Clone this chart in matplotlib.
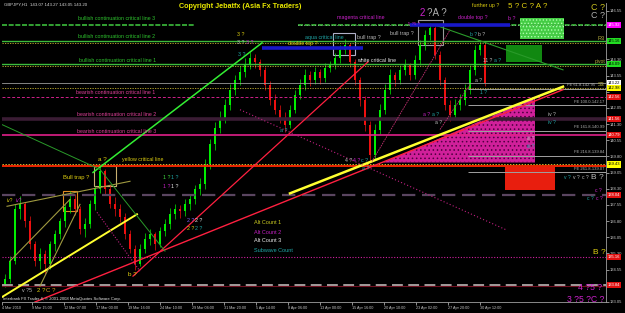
import matplotlib
matplotlib.use("Agg")
import matplotlib.pyplot as plt
from matplotlib.patches import Rectangle, Polygon

plt.rcParams['font.family'] = ['Liberation Sans', 'DejaVu Sans']
plt.rcParams['hatch.linewidth'] = 0.6

# ---- candles (GBPJPY, one candle = 10 H1 bars) ----
opens = [133.90, 134.11, 134.95, 137.35, 137.58, 136.80, 135.73, 134.95, 135.27, 134.81,
         135.73, 136.19, 136.80, 137.44, 137.81, 137.35, 136.43, 136.66, 137.58, 138.27,
         139.11, 138.27, 137.58, 137.35, 136.98, 136.19, 135.50, 134.81, 135.50, 135.96,
         136.19, 135.73, 136.33, 136.66, 137.12, 137.35, 137.26, 137.58, 137.81, 138.27,
         138.51, 139.43, 140.36, 141.14, 141.60, 142.20, 142.90, 143.36, 143.73, 144.05,
         144.38, 144.19, 143.82, 143.13, 142.44, 141.97, 141.60, 141.28, 141.97, 142.67,
         143.13, 143.59, 143.36, 143.73, 143.45, 143.91, 144.05, 144.38, 144.75, 144.98,
         144.19, 143.36, 142.44, 141.28, 139.89, 141.05, 141.97, 142.90, 143.59, 143.36,
         143.82, 144.05, 143.59, 144.28, 144.98, 145.44, 145.76, 144.52, 143.36, 142.20,
         141.74, 142.20, 142.44, 142.90, 143.82, 144.75, 144.98]
highs = [134.35, 135.20, 137.60, 137.95, 137.70, 137.05, 135.90, 135.55, 135.45, 135.90,
         136.40, 136.95, 137.60, 138.20, 138.05, 137.50, 136.95, 137.80, 138.45, 139.35,
         139.20, 138.50, 137.90, 137.60, 137.20, 136.40, 135.70, 135.75, 136.25, 136.45,
         136.30, 136.55, 136.90, 137.40, 137.60, 137.55, 137.85, 138.05, 138.50, 138.80,
         139.70, 140.60, 141.40, 141.90, 142.45, 143.15, 143.60, 144.00, 144.35, 144.65,
         144.55, 144.30, 143.95, 143.30, 142.70, 142.20, 141.85, 142.20, 142.90, 143.40,
         143.85, 143.75, 143.95, 143.85, 144.15, 144.25, 144.60, 144.95, 145.25, 145.05,
         144.30, 143.50, 142.60, 141.45, 141.30, 142.25, 143.15, 143.85, 143.70, 144.05,
         144.30, 144.15, 144.50, 145.20, 145.65, 146.00, 145.85, 144.70, 143.50, 142.40,
         142.45, 142.70, 143.15, 144.05, 144.95, 145.20, 145.05]
lows = [133.75, 133.95, 134.80, 136.90, 136.55, 135.50, 134.70, 134.60, 134.35, 134.60,
        135.40, 135.95, 136.55, 137.20, 137.10, 136.20, 136.05, 136.50, 137.30, 138.10,
        138.05, 137.40, 137.05, 136.75, 135.95, 135.30, 134.55, 134.70, 135.30, 135.70,
        135.45, 135.60, 136.10, 136.45, 136.90, 136.95, 137.05, 137.30, 137.60, 138.00,
        138.30, 139.20, 140.10, 140.90, 141.35, 141.95, 142.65, 143.10, 143.50, 143.85,
        143.90, 143.55, 142.90, 142.20, 141.75, 141.35, 140.95, 141.10, 141.80, 142.45,
        142.90, 143.05, 143.15, 143.15, 143.25, 143.70, 143.85, 144.15, 144.55, 143.95,
        143.10, 142.15, 141.00, 139.55, 139.70, 140.85, 141.75, 142.70, 143.05, 143.15,
        143.60, 143.35, 143.40, 144.05, 144.75, 145.20, 144.30, 143.10, 141.95, 141.45,
        141.55, 141.95, 142.20, 142.70, 143.60, 144.50, 143.05]
closes = [134.11, 134.95, 137.35, 137.58, 136.80, 135.73, 134.95, 135.27, 134.81, 135.73,
          136.19, 136.80, 137.44, 137.81, 137.35, 136.43, 136.66, 137.58, 138.27, 139.11,
          138.27, 137.58, 137.35, 136.98, 136.19, 135.50, 134.81, 135.50, 135.96, 136.19,
          135.73, 136.33, 136.66, 137.12, 137.35, 137.26, 137.58, 137.81, 138.27, 138.51,
          139.43, 140.36, 141.14, 141.60, 142.20, 142.90, 143.36, 143.73, 144.05, 144.38,
          144.19, 143.82, 143.13, 142.44, 141.97, 141.60, 141.28, 141.97, 142.67, 143.13,
          143.59, 143.36, 143.73, 143.45, 143.91, 144.05, 144.38, 144.75, 144.98, 144.19,
          143.36, 142.44, 141.28, 139.89, 141.05, 141.97, 142.90, 143.59, 143.36, 143.82,
          144.05, 143.59, 144.28, 144.98, 145.44, 145.76, 144.52, 143.36, 142.20, 141.74,
          142.20, 142.44, 142.90, 143.82, 144.75, 144.98, 143.22]
candle_times = [6 + 10 * i for i in range(len(closes))]

# ---- time axis (H1 bar index) ----
xtick_times = [0, 60, 124, 188, 252, 316, 380, 444, 508, 572, 636, 700, 764, 828, 892, 956]
xtick_labels = ["4 Mar 2010", "9 Mar 15:00", "12 Mar 07:00", "17 Mar 00:00", "19 Mar 16:00",
                "24 Mar 10:00", "29 Mar 04:00", "31 Mar 20:00", "5 Apr 14:00", "8 Apr 06:00",
                "13 Apr 00:00", "15 Apr 16:00", "20 Apr 10:00", "23 Apr 02:00",
                "27 Apr 20:00", "30 Apr 12:00"]
ytick_vals = [146.55, 145.80, 145.05, 144.30, 143.55, 142.80, 142.05, 141.30, 140.55,
              139.80, 139.05, 138.30, 137.55, 136.80, 136.05, 135.30, 134.55, 133.80, 133.05]
ytick_hidden = [145.80, 145.05, 142.80, 133.80]

# ---- horizontal levels ----
bull_levels = [145.14, 144.09]
bull_dotted = [145.07, 144.02]
bull3_level = 145.92
bull3_span = [0, 386]
magenta_span = [592, 1208]
bid_level = 143.22
s3_dotted = 142.98
bear1_level = 142.56
bear2_level = 141.56
bear3_level = 140.80
yellow_dotted = 139.43
red_critical = 139.38
purple_dashed = 138.00
magenta_dotted = 135.14
gray_dashed = 133.84
darkred_low = 133.78

fe_prices = [142.95, 142.17, 140.99, 139.84, 139.07]
fe_labels = ["FE 61.8-142.95", "FE 100.0-142.17", "FE 161.8-140.99",
             "FE 216.8-139.84", "FE 261.8-139.07"]
fe_start = 932
fe_label_end = [1186, 1204, 1204, 1204, 1204]

# price boxes on the axis: price, text, face, text colour
price_boxes = [(145.92, "145.92", "#ff00ff", "white"), (145.16, "145.16", "#22dd22", "black"),
               (144.09, "144.09", "#22dd22", "black"), (143.22, "143.22", "white", "black"),
               (142.98, "142.98", "#ffff00", "black"), (142.56, "142.56", "#e01010", "white"),
               (141.56, "141.56", "#e01010", "white"), (140.80, "140.79", "#e01010", "white"),
               (139.43, "139.43", "#ffff00", "black"), (138.02, "138.04", "#e01010", "white"),
               (135.14, "135.16", "#e01010", "white"), (133.84, "133.84", "#e01010", "white")]

# ---- trend lines (time, price) ----
red_long_t, red_long_p = [66, 1122], [133.05, 142.90]
yellow_main_t, yellow_main_p = [576, 1122], [138.09, 143.04]
red_steep_t, red_steep_p = [262, 732], [134.25, 144.19]
yellow_left_t, yellow_left_p = [0, 270], [133.28, 137.12]
olive_t, olive_p = [10, 256], [137.49, 138.65]
olive_ch1_t, olive_ch1_p = [16, 136], [134.95, 137.81]
olive_ch2_t, olive_ch2_p = [76, 156], [133.79, 137.58]
lime_t, lime_p = [182, 520], [139.06, 145.07]
green_a_t, green_a_p = [0, 196, 326], [141.28, 139.20, 135.41]
green_top_t, green_top_p = [866, 1122], [145.90, 143.82]
pink_dot_long_t, pink_dot_long_p = [476, 1010], [141.97, 136.38]
pink_dot_short_t, pink_dot_short_p = [190, 276], [137.21, 134.48]
pink_thin1_t, pink_thin1_p = [740, 896], [139.57, 145.67]
pink_thin2_t, pink_thin2_p = [876, 936], [141.05, 143.13]
blue1_t, blue1_p = [520, 722], 144.84
blue2_t, blue2_p = [816, 1016], 145.90

# ---- rectangles (t0, t1, p_low, p_high) ----
light_green_box = (1036, 1124, 145.26, 146.23)
dark_green_box = (1008, 1080, 144.19, 144.98)
red_box = (1006, 1106, 138.23, 139.29)
top_box = (832, 882, 144.98, 146.13)
aqua_box = (662, 706, 144.52, 145.53)
gold_box = (184, 228, 138.41, 139.38)
orange_box = (122, 150, 137.26, 138.18)
tri_t = [762, 1066, 1066]
tri_p = [139.52, 142.53, 139.52]

W, H = 625, 313
fig = plt.figure(figsize=(W / 100, H / 100), dpi=100, facecolor='black')
ax = fig.add_axes([2 / W, 11 / H, 604 / W, 299 / H], facecolor='black')
ax.set_xlim(0, 1208)
ax.set_ylim(133.10, 146.92)


# background objects
def box(b, fc, ec='none', lw=0.8, hatch=None, fill=True):
    ax.add_patch(Rectangle((b[0], b[2]), b[1] - b[0], b[3] - b[2], fc=fc if fill else 'none',
                           ec=ec, lw=lw, hatch=hatch, zorder=1))


box(light_green_box, '#44cc44', ec='#aaffaa', lw=0, hatch='.....')
box(dark_green_box, '#118811')
box(red_box, '#e81e0e')
ax.add_patch(Polygon(list(zip(tri_t, tri_p)), closed=True, fc='#d0209a', ec='#500040',
                     lw=0, hatch='....', zorder=1))
box(top_box, None, ec='#9a9a9a', fill=False)
box(aqua_box, None, ec='#b0b0c8', fill=False)
box(gold_box, None, ec='#c8b070', fill=False)
box(orange_box, None, ec='#e08a20', fill=False)

# candles
for t, o, h, l, c in zip(candle_times, opens, highs, lows, closes):
    col = '#00ee00' if c >= o else '#ee1010'
    ax.vlines(t, l, h, color=col, lw=0.5, zorder=2)
    ax.add_patch(Rectangle((t - 2.4, min(o, c)), 4.8, max(abs(c - o), 0.03),
                           fc=col, ec='none', zorder=2))

# horizontal levels
ax.hlines(bull3_level, *bull3_span, color='#3cbc3c', lw=1.2, ls=(0, (3, 1)), zorder=3)
ax.hlines(bull3_level, *magenta_span, color='#3cbc3c', lw=1.2, ls=(0, (3, 1)), zorder=3)
ax.hlines(bull3_level, *magenta_span, color='#d0d0d0', lw=0.5, ls=(0, (1, 3)), zorder=3)
for lv in bull_levels:
    ax.axhline(lv, color='#3cbc3c', lw=1.0, zorder=3)
for lv in bull_dotted:
    ax.axhline(lv, color='#c8b432', lw=0.6, ls=(0, (1.5, 1.5)), zorder=3)
ax.axhline(bid_level, color='#9a9a9a', lw=0.6, zorder=3)
ax.axhline(s3_dotted, color='#c8b432', lw=0.6, ls=(0, (1.5, 1.5)), zorder=3)
ax.axhline(bear1_level, color='#d0208a', lw=0.7, ls=(0, (3, 2)), zorder=3)
ax.axhline(bear2_level, color='#3a1c34', lw=2.6, zorder=3)
ax.axhline(bear3_level, color='#e0208a', lw=1.2, zorder=3)
ax.axhline(yellow_dotted, color='#d0b030', lw=0.7, ls=(0, (1.5, 1.5)), zorder=3)
ax.axhline(red_critical, color='#ff2a00', lw=1.3, zorder=3)
ax.axhline(purple_dashed, color='#5a4560', lw=1.6, ls=(0, (6, 3)), zorder=3)
ax.axhline(magenta_dotted, color='#d020a0', lw=0.8, ls=(0, (1, 1.5)), zorder=3)
ax.axhline(darkred_low, color='#701020', lw=0.8, zorder=3)
ax.axhline(gray_dashed, color='#b0a8a8', lw=1.3, ls=(0, (6, 3)), zorder=3)

for p in fe_prices:
    ax.hlines(p, fe_start, 1208, color='#a0a0a0', lw=0.7, zorder=3)

# trend lines
ax.plot(red_long_t, red_long_p, color='#ff2040', lw=1.0, zorder=4)
ax.plot(yellow_main_t, yellow_main_p, color='#ffff30', lw=1.8, zorder=4)
ax.plot(red_steep_t, red_steep_p, color='#ff2040', lw=0.9, zorder=4)
ax.plot(yellow_left_t, yellow_left_p, color='#ffff30', lw=1.4, zorder=4)
ax.plot(olive_t, olive_p, color='#a09a40', lw=0.8, zorder=4)
ax.plot(olive_ch1_t, olive_ch1_p, color='#a09a40', lw=0.8, zorder=4)
ax.plot(olive_ch2_t, olive_ch2_p, color='#a09a40', lw=0.8, zorder=4)
ax.plot(lime_t, lime_p, color='#33ee33', lw=1.1, zorder=4)
ax.plot(green_a_t, green_a_p, color='#2a9a2a', lw=0.7, zorder=4)
ax.plot(green_top_t, green_top_p, color='#2a9a2a', lw=0.8, zorder=4)
ax.plot(pink_dot_long_t, pink_dot_long_p, color='#c02080', lw=0.8, ls=(0, (1, 2)), zorder=4)
ax.plot(pink_dot_short_t, pink_dot_short_p, color='#c02080', lw=0.8, ls=(0, (1, 1.5)), zorder=4)
ax.plot(pink_thin1_t, pink_thin1_p, color='#c03070', lw=0.6, ls=(0, (2, 1)), zorder=4)
ax.plot(pink_thin2_t, pink_thin2_p, color='#c03070', lw=0.6, ls=(0, (2, 1)), zorder=4)
ax.hlines(blue1_p, *blue1_t, color='#1818c8', lw=2.6, zorder=4)
ax.hlines(blue2_p, *blue2_t, color='#1818c8', lw=2.6, zorder=4)

# axes
ax.yaxis.tick_right()
ax.set_yticks(ytick_vals)
ax.set_yticklabels(["" if v in ytick_hidden else f"{v:.2f}" for v in ytick_vals])
ax.set_xticks(xtick_times)
ax.set_xticklabels(xtick_labels)
plt.setp(ax.get_xticklabels(), ha='left')
ax.tick_params(axis='y', colors='#c8c8c8', labelsize=3.0, length=2, width=0.5, pad=1)
ax.tick_params(axis='x', colors='#c8c8c8', labelsize=2.7, length=2, width=0.5, pad=1)
for side in ['top', 'left']:
    ax.spines[side].set_visible(False)
for side in ['right', 'bottom']:
    ax.spines[side].set_color('#a0a0a0')
    ax.spines[side].set_linewidth(0.6)

yt = ax.get_yaxis_transform()
for p, s, fc, tc in price_boxes:
    ax.text(1.003, p, s, transform=yt, ha='left', va='center', fontsize=3.0, color=tc,
            bbox=dict(boxstyle='square,pad=0.25', fc=fc, ec='none'), clip_on=False, zorder=6)

for p, s, xe in zip(fe_prices, fe_labels, fe_label_end):
    ax.text(xe, p + 0.08, s, ha='right', va='bottom', fontsize=3.0, color='#b0b0b0', zorder=5)


# annotations (figure pixels)
def put(x, y, s, color, size=3.8, ha='left', weight='normal'):
    fig.text(x / W, 1 - y / H, s, color=color, fontsize=size, ha=ha, va='center',
             fontweight=weight)


GRN, PNK, YEL, TEAL, MAG, GRY, WHT = ('#2ec42e', '#e0409a', '#e0d010', '#20a8a8',
                                      '#cc22cc', '#bdbdbd', '#e8e8e8')

put(4, 5, "GBPJPY,H1  143.07 143.27 143.05 143.20", '#d8d8d8', 3.2)
put(179, 7, "Copyright Jebatfx (Asia Fx Traders)", '#e8e800', 5.2, weight='bold')
put(78, 19, "bullish continuation critical line 3", GRN)
put(78, 36, "bullish continuation critical line 2", GRN)
put(79, 60, "bullish continuation critical line 1", GRN)
put(76, 93, "bearish continuation critical line 1", PNK)
put(77, 115, "bearish continuation critical line 2", PNK)
put(77, 132, "bearish continuation critical line 3", PNK)
put(122, 160, "yellow critical line", YEL)
put(98, 159, "a ?", YEL, 4.6)
put(63, 178, "Bull trap ?", YEL, 4.2)
put(7, 200, "iv?", YEL, 3.6)
put(16, 200, "iv?", MAG, 3.6)
put(163, 178, "1 ?", '#40e040', 3.8)
put(171, 178, "1 ?", TEAL, 3.8)
put(163, 186, "1 ?", MAG, 3.8)
put(171, 186, "1 ?", WHT, 3.8)
put(187, 220, "2 ?", '#8060ff', 3.8)
put(195, 220, "2 ?", WHT, 3.8)
put(187, 228, "2 ?", YEL, 3.8)
put(195, 228, "2 ?", TEAL, 3.8)
put(128, 275, "b ?", YEL, 4.6)
put(22, 290, "v ?5", GRY, 3.8)
put(37, 290, "2 ?", YEL, 4.4)
put(46, 290, "C ?", '#e0a020', 4.4)
put(3, 299, "Interbank FX Trader 4, \u00a9 2001-2008 MetaQuotes Software Corp.", WHT, 3.0)
put(237, 35, "3 ?", YEL)
put(237, 43, "3 ?", GRY)
put(246, 43, "3 ?", MAG)
put(238, 54, "3 ?", TEAL)
put(288, 43, "double top ?", YEL)
put(305, 37, "aqua critical line", TEAL)
put(357, 38, "bull trap ?", GRY)
put(390, 33, "bull trap ?", GRY)
put(337, 18, "magenta critical line", MAG)
put(408, 24, "5 ?5 ?", MAG, 3.2)
put(357, 61, "white critical line", WHT)
put(280, 131, "a ?", TEAL)
put(345, 160, "4 ?", GRY)
put(353, 160, "4 ?", MAG)
put(361, 160, "c ?", TEAL)
put(362, 169, "a ?", TEAL)
put(254, 223, "Alt Count 1", '#c8c820', 4.0)
put(254, 232, "Alt Count 2", '#c020c0', 4.0)
put(254, 241, "Alt Count 3", WHT, 4.0)
put(254, 250, "Subwave Count", TEAL, 4.0)
put(420, 13, "2", MAG, 7)
put(427, 13, "?A ?", '#b0b0b0', 7)
put(458, 18, "double top ?", MAG)
put(508, 18, "b ?", MAG)
put(472, 6, "further up ?", YEL)
put(508, 6, "5 ? C ? A ?", YEL, 5.8)
put(605, 7, "C ?", '#c8c020', 6.4, ha='right')
put(605, 16, "C ?", '#b0b0b0', 6.4, ha='right')
put(470, 35, "b ?", TEAL, 3.6)
put(478, 35, "b ?", GRY, 3.6)
put(483, 61, "11 ?", GRY, 3.6)
put(494, 61, "a ?", TEAL, 3.6)
put(475, 80, "a ?", GRY, 3.6)
put(480, 93, "1 ?", TEAL, 3.6)
put(423, 114, "a ?", MAG, 3.6)
put(432, 114, "a ?", TEAL, 3.6)
put(435, 123, "a ?", GRY, 3.6)
put(548, 114, "iv ?", GRY, 3.6)
put(548, 122, "iv ?", TEAL, 3.6)
put(527, 139, "iii ?", GRY, 3.6)
put(527, 147, "iii ?", TEAL, 3.6)
put(564, 178, "v ?", TEAL, 3.6)
put(573, 178, "v ?", GRY, 3.6)
put(582, 178, "c ?", GRY, 3.6)
put(591, 178, "B ?", GRY, 6)
put(595, 190, "c ?", MAG, 3.6)
put(587, 199, "c ?", TEAL, 3.6)
put(596, 199, "c ?", MAG, 3.6)
put(593, 253, "B ?", YEL, 6)
put(578, 288, "4 ?5 ?", MAG, 6.2)
put(567, 299, "3 ?5 ?C ?", MAG, 6.2)
put(605, 38, "R3", '#b8b040', 4.0, ha='right')
put(605, 61, "pivot", '#b8b040', 3.6, ha='right')
put(605, 85, "S3", '#b8b040', 4.0, ha='right')

fig.savefig("out.png", dpi=100, facecolor='black')
